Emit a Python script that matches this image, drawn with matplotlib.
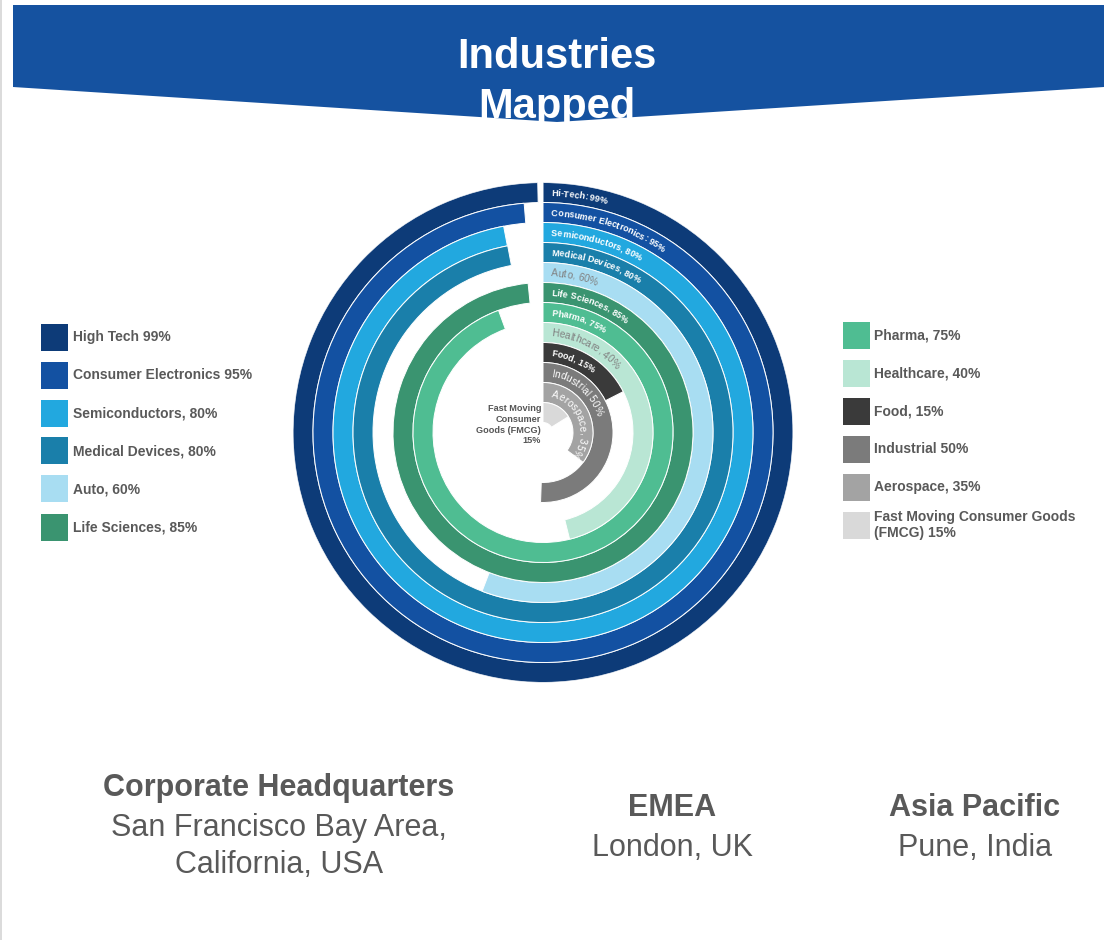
import numpy as np
import matplotlib
matplotlib.use("Agg")
import matplotlib.pyplot as plt
from matplotlib.patches import Polygon, Rectangle
from matplotlib.font_manager import FontProperties, findfont, get_font

# ---------------- data ----------------
industries = ['Hi-Tech', 'Consumer Electronics', 'Semiconductors', 'Medical Devices',
              'Auto', 'Life Sciences', 'Pharma', 'Healthcare', 'Food', 'Industrial',
              'Aerospace', 'Fast Moving Consumer Goods (FMCG)']
pct = [99, 95, 80, 80, 60, 85, 75, 40, 15, 50, 35, 15]
# arc extent (degrees) as drawn in the reference graphic
arc_deg = [358.8, 355.3, 349.2, 349.3, 201, 354.3, 340, 166, 63, 182, 126.6, 58]
ring_labels = ['Hi-Tech: 99%', 'Consumer Electronics: 95%', 'Semiconductors, 80%',
               'Medical Devices, 80%', 'Auto, 60%', 'Life Sciences, 85%', 'Pharma, 75%',
               'Healthcare, 40%', 'Food, 15%', 'Industrial 50%', 'Aerospace, 35%', '']
colors = ['#0D3B78', '#1351A2', '#22A8DF', '#1A7FAA', '#A8DDF2', '#3A9470',
          '#4FBD92', '#B9E6D4', '#3A3A3A', '#7B7B7B', '#A3A3A3', '#D9D9D9']
left_legend = ['High Tech 99%', 'Consumer Electronics 95%', 'Semiconductors, 80%',
               'Medical Devices, 80%', 'Auto, 60%', 'Life Sciences, 85%']
right_legend = ['Pharma, 75%', 'Healthcare, 40%', 'Food, 15%', 'Industrial 50%',
                'Aerospace, 35%', 'Fast Moving Consumer Goods\n(FMCG) 15%']
center_label = 'Fast Moving\nConsumer\nGoods (FMCG)\n15%'
title_lines = ['Industries', 'Mapped']
offices = [('Corporate Headquarters', ['San Francisco Bay Area,', 'California, USA']),
           ('EMEA', ['London, UK']),
           ('Asia Pacific', ['Pune, India'])]

# ---------------- setup ----------------
W, H, DPI = 1114, 940, 100
FAM = 'Liberation Sans'
plt.rcParams['font.family'] = [FAM, 'DejaVu Sans']
fig = plt.figure(figsize=(W / DPI, H / DPI), dpi=DPI)
fig.patch.set_facecolor('white')


def fx(x):
    return x / W


def fy(y):
    return 1 - y / H


# left border line
fig.add_artist(plt.Line2D([fx(1), fx(1)], [0, 1], color='#d4d4d4', lw=1.2,
                          transform=fig.transFigure))

# ---------------- banner ----------------
banner = Polygon([(fx(13), fy(5)), (fx(1104), fy(5)), (fx(1104), fy(87)),
                  (fx(557), fy(122)), (fx(13), fy(87))],
                 closed=True, facecolor='#1552A0', edgecolor='none',
                 transform=fig.transFigure, zorder=1)
fig.add_artist(banner)
for line, yb in zip(title_lines, [68, 118]):
    fig.text(fx(557), fy(yb), line, color='white', fontsize=30, fontweight='bold',
             ha='center', va='baseline', zorder=3)

# ---------------- radial bars ----------------
CX, CY, R = 543, 432.5, 250
ax = fig.add_axes([fx(CX - R), fy(CY + R), 2 * R / W, 2 * R / H], projection='polar')
ax.set_theta_zero_location('N')
ax.set_theta_direction(-1)
ax.set_ylim(0, R)
ax.axis('off')

ring_w = 20
n = len(industries)
bottoms = [R - ring_w * (i + 1) for i in range(n)]
ax.bar(np.zeros(n), [ring_w] * n, width=np.radians(arc_deg), bottom=bottoms,
       align='edge', color=colors, edgecolor='white', linewidth=0.7)


def char_advances(text, size_pt, weight):
    fp = FontProperties(family=FAM, weight=weight, size=size_pt)
    font = get_font(findfont(fp))
    font.set_size(size_pt, DPI)
    return [font.load_char(ord(c)).linearHoriAdvance / 65536.0 for c in text]


def curved_text(text, r_mid, size_pt, weight, color, start_px=8):
    advs = char_advances(text, size_pt, weight)
    size_px = size_pt * DPI / 72.0
    r = r_mid - 0.36 * size_px
    s = start_px
    for c, a in zip(text, advs):
        th = (s + a / 2) / r
        ax.text(th, r, c, rotation=-np.degrees(th), rotation_mode='anchor',
                ha='center', va='baseline', fontsize=size_pt, fontweight=weight,
                color=color, family=FAM)
        s += a


light_rings = {4, 7}
regular_rings = {4, 7, 9, 10}
for i, lab in enumerate(ring_labels):
    if not lab:
        continue
    rmid = bottoms[i] + ring_w / 2
    if i in regular_rings:
        size, weight = 7.3, 'normal'
    else:
        size, weight = 6.5, 'bold'
    col = '#808080' if i in light_rings else 'white'
    curved_text(lab, rmid, size, weight, col)

fig.text(fx(541), fy(404), center_label, ha='right', va='top', fontsize=6.6,
         fontweight='bold', color='#555555', linespacing=1.25, multialignment='right')

# ---------------- legends ----------------
TXT = '#595959'
rows = [337, 375, 413, 451, 489, 527]
for i, (lab, y) in enumerate(zip(left_legend, rows)):
    fig.add_artist(Rectangle((fx(41), fy(y + 13.5)), 27 / W, 27 / H,
                             facecolor=colors[i], edgecolor='none',
                             transform=fig.transFigure))
    fig.text(fx(73), fy(y), lab, ha='left', va='center', fontsize=10,
             fontweight='bold', color=TXT)

rows_r = [335, 373, 411, 449, 487, 525]
for i, (lab, y) in enumerate(zip(right_legend, rows_r)):
    fig.add_artist(Rectangle((fx(843), fy(y + 13.5)), 27 / W, 27 / H,
                             facecolor=colors[6 + i], edgecolor='none',
                             transform=fig.transFigure))
    fig.text(fx(874), fy(y), lab, ha='left', va='center', fontsize=10,
             fontweight='bold', color=TXT, linespacing=1.15)

# ---------------- offices ----------------
pos = [(279, 788), (672, 808), (975, 808)]
for (head, body), (x, y) in zip(offices, pos):
    fig.text(fx(x), fy(y), head, ha='center', va='center', fontsize=22,
             fontweight='bold', color=TXT)
    for k, line in enumerate(body):
        fig.text(fx(x), fy(y + 40 + 37 * k), line, ha='center', va='center',
                 fontsize=22, color=TXT)

fig.savefig('out.png', dpi=DPI, facecolor='white')
